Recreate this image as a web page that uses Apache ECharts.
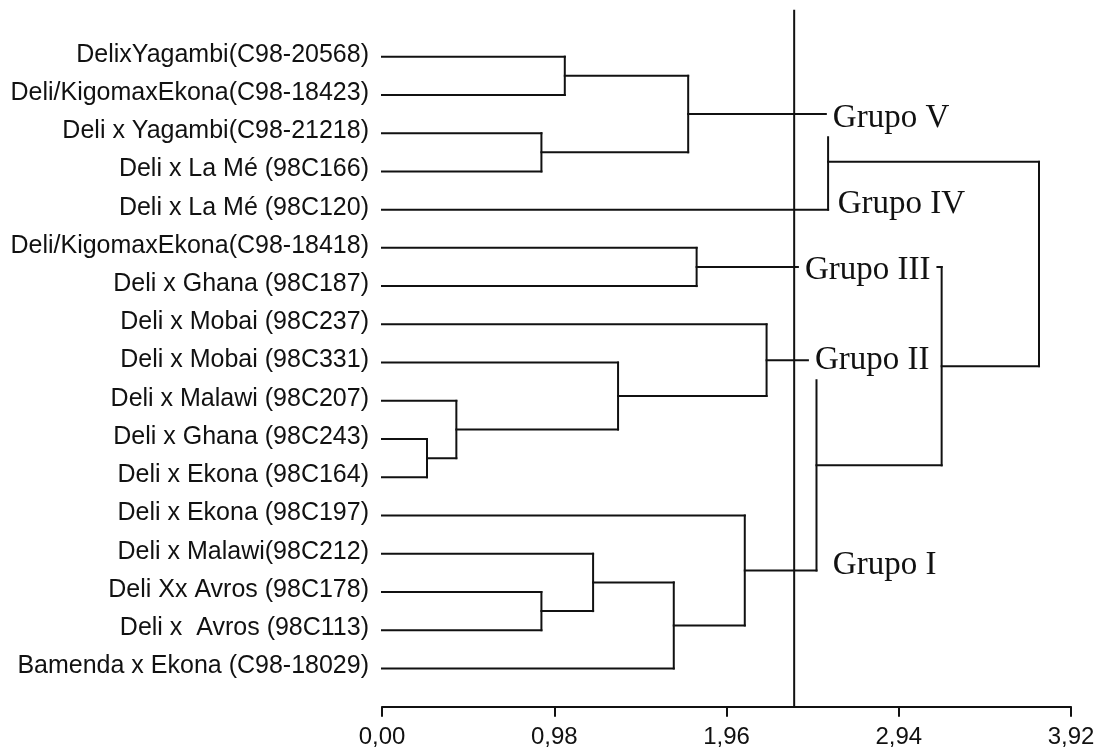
<!DOCTYPE html>
<html>
<head>
<meta charset="utf-8">
<script src="https://cdn.jsdelivr.net/npm/echarts@6/dist/echarts.min.js"></script>
<style>
html, body { margin: 0; background: #fff; }
#main { width: 1099px; height: 750px; }
</style>
</head>
<body>
<div id="main"></div>
<script>
// leaves top to bottom
var leaves = [
  'DelixYagambi(C98-20568)',
  'Deli/KigomaxEkona(C98-18423)',
  'Deli x Yagambi(C98-21218)',
  'Deli x La Mé (98C166)',
  'Deli x La Mé (98C120)',
  'Deli/KigomaxEkona(C98-18418)',
  'Deli x Ghana (98C187)',
  'Deli x Mobai (98C237)',
  'Deli x Mobai (98C331)',
  'Deli x Malawi (98C207)',
  'Deli x Ghana (98C243)',
  'Deli x Ekona (98C164)',
  'Deli x Ekona (98C197)',
  'Deli x Malawi(98C212)',
  'Deli Xx Avros (98C178)',
  'Deli x  Avros (98C113)',
  'Bamenda x Ekona (C98-18029)'
];

// merges: [child a, child b, distance]; nodes 0-16 are the leaves, 17.. the merges in this order
var merges = [
  [0, 1, 1.04],     // 17
  [2, 3, 0.907],    // 18
  [17, 18, 1.742],  // 19
  [19, 4, 2.538],   // 20  grupo V + IV
  [5, 6, 1.79],     // 21  grupo III
  [10, 11, 0.256],  // 22
  [9, 22, 0.423],   // 23
  [8, 23, 1.343],   // 24
  [7, 24, 2.188],   // 25  grupo II
  [14, 15, 0.907],  // 26
  [13, 26, 1.201],  // 27
  [27, 16, 1.66],   // 28
  [12, 28, 2.064],  // 29  grupo I
  [25, 29, 2.472],  // 30
  [21, 30, 3.184],  // 31
  [20, 31, 3.738]   // 32  root
];

var cutHeight = 2.345;
var xTicks = [0, 0.98, 1.96, 2.94, 3.92];

var groupNames = ['Grupo V', 'Grupo IV', 'Grupo III', 'Grupo II', 'Grupo I'];
var groupX = [2.565, 2.593, 2.406, 2.463, 2.565];
var groupY = [1.6, 3.85, 5.6, 7.95, 13.3];

var yMin = -1.2, yMax = 17;

// build the segments of the tree
var nodeY = leaves.map(function (d, i) { return i; });
var nodeH = leaves.map(function () { return 0; });
var segs = [];
merges.forEach(function (m) {
  var ya = nodeY[m[0]], yb = nodeY[m[1]], h = m[2];
  segs.push([nodeH[m[0]], ya, h, ya]);
  segs.push([nodeH[m[1]], yb, h, yb]);
  segs.push([h, ya, h, yb]);
  nodeY.push((ya + yb) / 2);
  nodeH.push(h);
});
segs.push([cutHeight, yMin, cutHeight, yMax]);

var ink = '#111';

var myChart = echarts.init(document.getElementById('main'));
myChart.setOption({
  animation: false,
  grid: { left: 382, right: 28, top: 10.8, bottom: 43.3 },
  xAxis: {
    type: 'value',
    position: 'bottom',
    min: xTicks[0],
    max: xTicks[xTicks.length - 1],
    interval: xTicks[1] - xTicks[0],
    splitLine: { show: false },
    axisLine: { onZero: false, lineStyle: { color: ink, width: 2 } },
    axisTick: { length: 10, lineStyle: { color: ink, width: 2 } },
    axisLabel: {
      margin: 19,
      color: ink,
      fontSize: 24,
      fontFamily: 'Liberation Sans',
      formatter: function (v) { return v.toFixed(2).replace('.', ','); }
    }
  },
  yAxis: {
    type: 'value',
    inverse: true,
    min: yMin,
    max: yMax,
    show: false
  },
  series: [
    {
      type: 'custom',
      clip: false,
      encode: { x: [0, 2], y: [1, 3] },
      data: segs,
      renderItem: function (params, api) {
        var p1 = api.coord([api.value(0), api.value(1)]);
        var p2 = api.coord([api.value(2), api.value(3)]);
        return {
          type: 'line',
          shape: { x1: p1[0], y1: p1[1], x2: p2[0], y2: p2[1] },
          style: { stroke: ink, lineWidth: 2, lineCap: 'square' }
        };
      },
      z: 2
    },
    {
      type: 'custom',
      clip: false,
      data: leaves.map(function (n, i) { return [0, i]; }),
      renderItem: function (params, api) {
        var p = api.coord([api.value(0), api.value(1)]);
        return {
          type: 'text',
          x: p[0] - 13,
          y: p[1] - 2,
          style: {
            text: leaves[params.dataIndex],
            fill: ink,
            font: '25px "Liberation Sans"',
            align: 'right',
            verticalAlign: 'middle'
          }
        };
      }
    },
    {
      type: 'custom',
      clip: false,
      data: groupNames.map(function (n, i) { return [groupX[i], groupY[i]]; }),
      renderItem: function (params, api) {
        var p = api.coord([api.value(0), api.value(1)]);
        return {
          type: 'text',
          x: p[0] - 6,
          y: p[1],
          style: {
            text: groupNames[params.dataIndex],
            fill: ink,
            font: '33px "Liberation Serif"',
            align: 'left',
            verticalAlign: 'middle',
            backgroundColor: '#fff',
            padding: [2, 6, 2, 6]
          }
        };
      },
      z: 5
    }
  ]
});
</script>
</body>
</html>
